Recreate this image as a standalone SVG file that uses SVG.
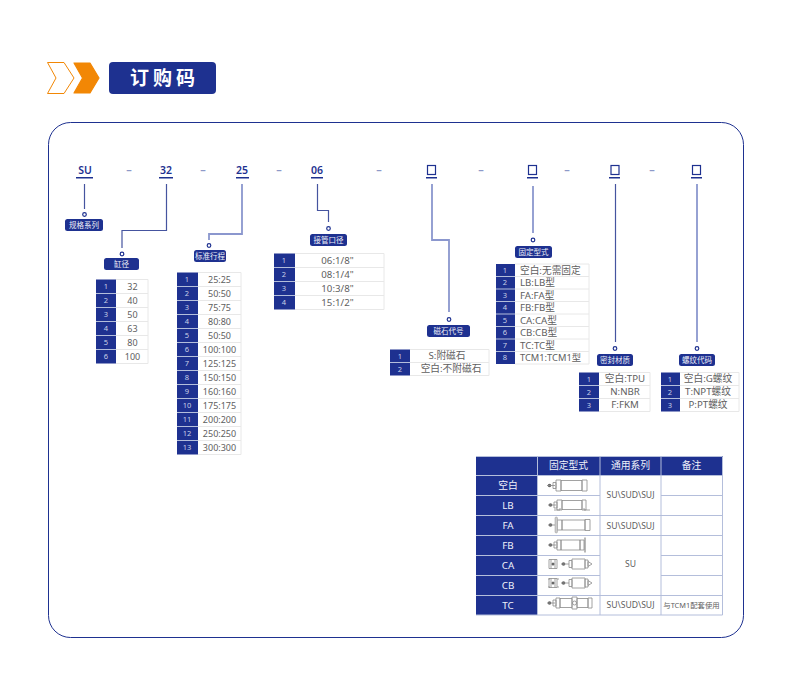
<svg xmlns="http://www.w3.org/2000/svg" width="790" height="678" viewBox="0 0 790 678">
<style>
text{font-family:"Noto Sans","Noto Sans CJK SC",sans-serif;text-anchor:middle}
.h{font-size:10.500px;font-weight:600;fill:#1e3190}
.d{font-size:11px;font-weight:700;fill:#8d99c8}
.bar{fill:#1e3190}
.box{fill:none;stroke:#1e3190;stroke-width:1.200}
.c{fill:none;stroke:#8b97ce;stroke-width:1.800}
.k{fill:none;stroke:#45549f;stroke-width:1.200}
.dot{fill:#fff;stroke:#1e3190;stroke-width:1.200}
.lb{fill:#1e3190}
.lt{font-size:7.500px;fill:#eef0f8}
.n{fill:#1e3190}
.g{fill:none;stroke:#e8e8e8;stroke-width:1}
.nt{font-size:7.500px;fill:#c9d0e8}
.v{font-size:9.700px;fill:#606060}
.q{font-size:9px;fill:#606060}
.w{font-size:9.300px;fill:#606060}
.l{text-anchor:start}
.tb{fill:none;stroke:#b4bedb;stroke-width:1}
.th{font-size:9.800px;fill:#f0f2fa}
.s{font-size:8.600px;fill:#606060}
.i{fill:none;stroke:#8a8a8a;stroke-width:.800}
.b{fill:#666;stroke:none}
</style>
<defs>
<g id="rod"><circle class="b" cx="2.500" cy="0" r="1.800"/><path class="i" d="M0 0h8"/></g>
<g id="cyl"><use href="#rod"/><path class="i" d="M6-3h3v6h-3zM9-5.500h5v11h-5zM14-5h21v10h-21zM35-5.500h5v11h-5z"/></g>
<g id="clevis"><path class="i" d="M0-4.500h8v9h-8zM2-4.500v9M6-4.500v9"/><circle class="b" cx="4" cy="0" r="1.500"/></g>
<g id="short"><use href="#rod"/><path class="i" d="M8-3.500h3v7h-3zM11-5h13v10h-13zM24-4h3v8h-3zM27-2.500l4 2.500-4 2.500z"/></g>
</defs>
<g id="head">
<path d="M47.500 62.500h16.500l10 15.500-10 15.500h-16.500l8.500-15.500z" fill="#fff" stroke="#f28705" stroke-width="1" stroke-linejoin="round"/>
<path d="M74 63h16l9 15-9 15h-16l8.500-15z" fill="#f28705" stroke="#f28705" stroke-width="1.200" stroke-linejoin="round"/>
<rect x="109" y="62" width="107" height="32" rx="4" fill="#1e3190"/>
<text x="164.500" y="85" style="font-size:19px;font-weight:700;letter-spacing:4px;fill:#fff">订购码</text>
</g>
<rect id="card" x="48.500" y="122.500" width="695" height="515" rx="22" fill="#fff" stroke="#1e3190" stroke-width="1"/>
<g id="code">
<text class="h" x="85" y="174">SU</text><rect class="bar" x="76" y="177" width="17" height="1.500"/>
<text class="d" x="129" y="174">–</text>
<text class="h" x="166" y="174">32</text><rect class="bar" x="159" y="177" width="14" height="1.500"/>
<text class="d" x="203" y="174">–</text>
<text class="h" x="242" y="174">25</text><rect class="bar" x="236" y="177" width="13" height="1.500"/>
<text class="d" x="279" y="174">–</text>
<text class="h" x="317" y="174">06</text><rect class="bar" x="311" y="177" width="12" height="1.500"/>
<text class="d" x="379" y="174">–</text>
<rect class="box" x="427.500" y="165.500" width="8" height="9"/><rect class="bar" x="426" y="177" width="11" height="1.500"/>
<text class="d" x="481" y="174">–</text>
<rect class="box" x="528.500" y="165.500" width="8" height="9"/><rect class="bar" x="527" y="177" width="11" height="1.500"/>
<text class="d" x="567" y="174">–</text>
<rect class="box" x="611" y="165.500" width="8" height="9"/><rect class="bar" x="609" y="177" width="11" height="1.500"/>
<text class="d" x="652" y="174">–</text>
<rect class="box" x="692.500" y="165.500" width="8" height="9"/><rect class="bar" x="691" y="177" width="11" height="1.500"/>
</g>
<g id="connectors">
<path class="k" d="M84.500 184V209"/>
<path class="k" d="M166.500 184V230.500H122V248"/>
<path class="c" d="M242 184V234H209V240"/>
<path class="k" d="M317.500 184V210.500H328.500V222"/>
<path class="c" d="M432 184V240H449V312"/>
<path class="c" d="M533 186V233"/>
<path class="k" d="M615.500 184V342"/>
<path class="c" d="M697 184V342"/>
</g>
<g id="n-series"><circle class="dot" cx="84.500" cy="214.500" r="1.800"/><rect class="lb" x="65" y="219" width="38" height="12" rx="2.500"/><text class="lt" x="84" y="228">规格系列</text></g>
<g id="n-bore"><circle class="dot" cx="122" cy="254" r="1.800"/><rect class="lb" x="104" y="258" width="35" height="12" rx="2.500"/><text class="lt" x="121.500" y="267">缸径</text>
<rect class="n" x="96" y="279.500" width="20" height="84"/><path class="g" d="M116 279.500h32v84h-32M116 293.500h32M116 307.500h32M116 321.500h32M116 335.500h32M116 349.500h32"/><path class="tb" d="M96 293.500h20M96 307.500h20M96 321.500h20M96 335.500h20M96 349.500h20"/>
<text class="nt" x="106" y="289">1</text><text class="nt" x="106" y="303">2</text><text class="nt" x="106" y="317">3</text><text class="nt" x="106" y="331">4</text><text class="nt" x="106" y="345">5</text><text class="nt" x="106" y="359">6</text>
<text class="q" x="132.500" y="290">32</text><text class="q" x="132.500" y="304">40</text><text class="q" x="132.500" y="318">50</text><text class="q" x="132.500" y="332">63</text><text class="q" x="132.500" y="346">80</text><text class="q" x="132.500" y="360">100</text></g>
<g id="n-stroke"><circle class="dot" cx="209" cy="245.500" r="1.800"/><rect class="lb" x="194" y="250" width="32" height="12" rx="2.500"/><text class="lt" x="210" y="259">标准行程</text>
<rect class="n" x="177" y="272.500" width="21" height="182"/><path class="g" d="M198 272.500h43v182h-43M198 286.500h43M198 300.500h43M198 314.500h43M198 328.500h43M198 342.500h43M198 356.500h43M198 370.500h43M198 384.500h43M198 398.500h43M198 412.500h43M198 426.500h43M198 440.500h43"/><path class="tb" d="M177 286.500h21M177 300.500h21M177 314.500h21M177 328.500h21M177 342.500h21M177 356.500h21M177 370.500h21M177 384.500h21M177 398.500h21M177 412.500h21M177 426.500h21M177 440.500h21"/>
<text class="nt" x="187" y="282">1</text><text class="nt" x="187" y="296">2</text><text class="nt" x="187" y="310">3</text><text class="nt" x="187" y="324">4</text><text class="nt" x="187" y="338">5</text><text class="nt" x="187" y="352">6</text><text class="nt" x="187" y="366">7</text><text class="nt" x="187" y="380">8</text><text class="nt" x="187" y="394">9</text><text class="nt" x="187" y="408">10</text><text class="nt" x="187" y="422">11</text><text class="nt" x="187" y="436">12</text><text class="nt" x="187" y="450">13</text>
<text class="q" x="219.500" y="283">25:25</text><text class="q" x="219.500" y="297">50:50</text><text class="q" x="219.500" y="311">75:75</text><text class="q" x="219.500" y="325">80:80</text><text class="q" x="219.500" y="339">50:50</text><text class="q" x="219.500" y="353">100:100</text><text class="q" x="219.500" y="367">125:125</text><text class="q" x="219.500" y="381">150:150</text><text class="q" x="219.500" y="395">160:160</text><text class="q" x="219.500" y="409">175:175</text><text class="q" x="219.500" y="423">200:200</text><text class="q" x="219.500" y="437">250:250</text><text class="q" x="219.500" y="451">300:300</text></g>
<g id="n-port"><circle class="dot" cx="328.500" cy="228.500" r="1.800"/><rect class="lb" x="310" y="234" width="37" height="12" rx="2.500"/><text class="lt" x="328.500" y="243">接管口径</text>
<rect class="n" x="274" y="253.500" width="21" height="56"/><path class="g" d="M295 253.500h89v56h-89M295 267.500h89M295 281.500h89M295 295.500h89"/><path class="tb" d="M274 267.500h21M274 281.500h21M274 295.500h21"/>
<text class="nt" x="284" y="263">1</text><text class="nt" x="284" y="277">2</text><text class="nt" x="284" y="291">3</text><text class="nt" x="284" y="305">4</text>
<text class="v" x="337.500" y="264">06:1/8"</text><text class="v" x="337.500" y="278">08:1/4"</text><text class="v" x="337.500" y="292">10:3/8"</text><text class="v" x="337.500" y="306">15:1/2"</text></g>
<g id="n-magnet"><circle class="dot" cx="449" cy="319.500" r="1.800"/><rect class="lb" x="427" y="325" width="43" height="12" rx="2.500"/><text class="lt" x="448.500" y="334">磁石代号</text>
<rect class="n" x="390" y="349.500" width="20" height="26"/><path class="g" d="M410 349.500h79v26h-79M410 362.500h79"/><path class="tb" d="M390 362.500h20"/>
<text class="nt" x="400" y="359">1</text><text class="nt" x="400" y="372">2</text>
<text class="v" x="447" y="359">S:附磁石</text><text class="v" x="451" y="372">空白:不附磁石</text></g>
<g id="n-mount"><circle class="dot" cx="533" cy="240" r="1.800"/><rect class="lb" x="515" y="246" width="37" height="12" rx="2.500"/><text class="lt" x="533.500" y="255">固定型式</text>
<rect class="n" x="496" y="264" width="19" height="100"/><path class="g" d="M515 264h74v100h-74M515 276.500h74M515 289h74M515 301.500h74M515 314h74M515 326.500h74M515 339h74M515 351.500h74"/><path class="tb" d="M496 276.500h19M496 289h19M496 301.500h19M496 314h19M496 326.500h19M496 339h19M496 351.500h19"/>
<text class="nt" x="505" y="273">1</text><text class="nt" x="505" y="285">2</text><text class="nt" x="505" y="298">3</text><text class="nt" x="505" y="310">4</text><text class="nt" x="505" y="323">5</text><text class="nt" x="505" y="335">6</text><text class="nt" x="505" y="348">7</text><text class="nt" x="505" y="360">8</text>
<text class="v l" x="520" y="274">空白:无需固定</text><text class="v l" x="520" y="286">LB:LB型</text><text class="v l" x="520" y="299">FA:FA型</text><text class="v l" x="520" y="311">FB:FB型</text><text class="v l" x="520" y="324">CA:CA型</text><text class="v l" x="520" y="336">CB:CB型</text><text class="v l" x="520" y="349">TC:TC型</text><text class="w l" x="520" y="361">TCM1:TCM1型</text></g>
<g id="n-seal"><circle class="dot" cx="615" cy="348.500" r="1.800"/><rect class="lb" x="597" y="354" width="36" height="12" rx="2.500"/><text class="lt" x="615" y="363">密封材质</text>
<rect class="n" x="579" y="372.500" width="20" height="39"/><path class="g" d="M599 372.500h51v39h-51M599 385.500h51M599 398.500h51"/><path class="tb" d="M579 385.500h20M579 398.500h20"/>
<text class="nt" x="589" y="382">1</text><text class="nt" x="589" y="395">2</text><text class="nt" x="589" y="408">3</text>
<text class="v" x="625" y="382">空白:TPU</text><text class="v" x="625" y="395">N:NBR</text><text class="v" x="625" y="408">F:FKM</text></g>
<g id="n-thread"><circle class="dot" cx="697" cy="348.500" r="1.800"/><rect class="lb" x="679" y="354" width="36" height="12" rx="2.500"/><text class="lt" x="697" y="363">螺纹代码</text>
<rect class="n" x="661" y="372.500" width="19" height="39"/><path class="g" d="M680 372.500h59v39h-59M680 385.500h59M680 398.500h59"/><path class="tb" d="M661 385.500h19M661 398.500h19"/>
<text class="nt" x="670" y="382">1</text><text class="nt" x="670" y="395">2</text><text class="nt" x="670" y="408">3</text>
<text class="v" x="708" y="382">空白:G螺纹</text><text class="v" x="708" y="395">T:NPT螺纹</text><text class="v" x="708" y="408">P:PT螺纹</text></g>
<g id="mount-table">
<rect x="476" y="456" width="247" height="19.500" fill="#1e3190"/>
<rect x="476" y="475.500" width="61.500" height="139.500" fill="#1e3190"/>
<path class="tb" d="M476 456.500h246.500v158.500h-246.500M476 475.500h246.500M476 495.500h61.500M661 495.500h61.500M476 515.500h246.500M476 535.500h246.500M476 555.500h61.500M661 555.500h61.500M476 575.500h61.500M661 575.500h61.500M476 595.500h246.500M537.500 456v159M600 456v159M661 456v159"/>
<path class="tb" d="M537.500 495.500h62.500M537.500 555.500h62.500M537.500 575.500h62.500"/>
<text class="th" x="568.500" y="469">固定型式</text><text class="th" x="630.500" y="469">通用系列</text><text class="th" x="691.500" y="469">备注</text>
<text class="th" x="508" y="489">空白</text><text class="th" x="508" y="509">LB</text><text class="th" x="508" y="529">FA</text><text class="th" x="508" y="549">FB</text><text class="th" x="508" y="569">CA</text><text class="th" x="508" y="589">CB</text><text class="th" x="508" y="609">TC</text>
<text class="s" x="630.500" y="498">SU\SUD\SUJ</text><text class="s" x="630.500" y="529">SU\SUD\SUJ</text><text class="s" x="630.500" y="567">SU</text><text class="s" x="630.500" y="608">SU\SUD\SUJ</text>
<text x="691.500" y="608" style="font-size:7.400px;fill:#606060">与TCM1配套使用</text>
<use href="#cyl" x="547" y="485.500"/>
<g transform="translate(548 505)"><use href="#rod"/><path class="i" d="M6-3h3v6h-3zM9-5h5v10h-5zM14-4.500h20v9h-20zM34-5h4v10h-4zM6 5h6v-2M36 3v2h6"/></g>
<g transform="translate(548 525)"><use href="#rod"/><path class="i" d="M9-5h5v10h-5zM14-5h23v10h-23zM37-5.500h5v11h-5z"/><rect x="7" y="-8" width="2.500" height="16" rx="1.200" fill="#ccc" stroke="#999" stroke-width=".5"/></g>
<g transform="translate(548 545)"><use href="#rod"/><path class="i" d="M6-3h3v6h-3zM9-5h4v10h-4zM13-5h19v10h-19zM32-5h4v10h-4z"/><path d="M37-7.500v15" stroke="#888" stroke-width="1.200" fill="none"/></g>
<use href="#clevis" x="549" y="564"/><use href="#short" x="561" y="564"/>
<use href="#clevis" x="549" y="583"/><path class="i" d="M548 579h2M548 587h2M557 579h2M557 587h2"/><use href="#short" x="561" y="583"/>
<g transform="translate(547 603)"><use href="#rod"/><path class="i" d="M6-3h3v6h-3zM9-5h4v10h-4zM13-4.500h12v9h-12zM30-4.500h11v9h-11zM41-5h4v10h-4zM25-6h5v12h-5z"/><circle class="i" cx="27.500" cy="0" r="2"/></g>
</g>
</svg>
